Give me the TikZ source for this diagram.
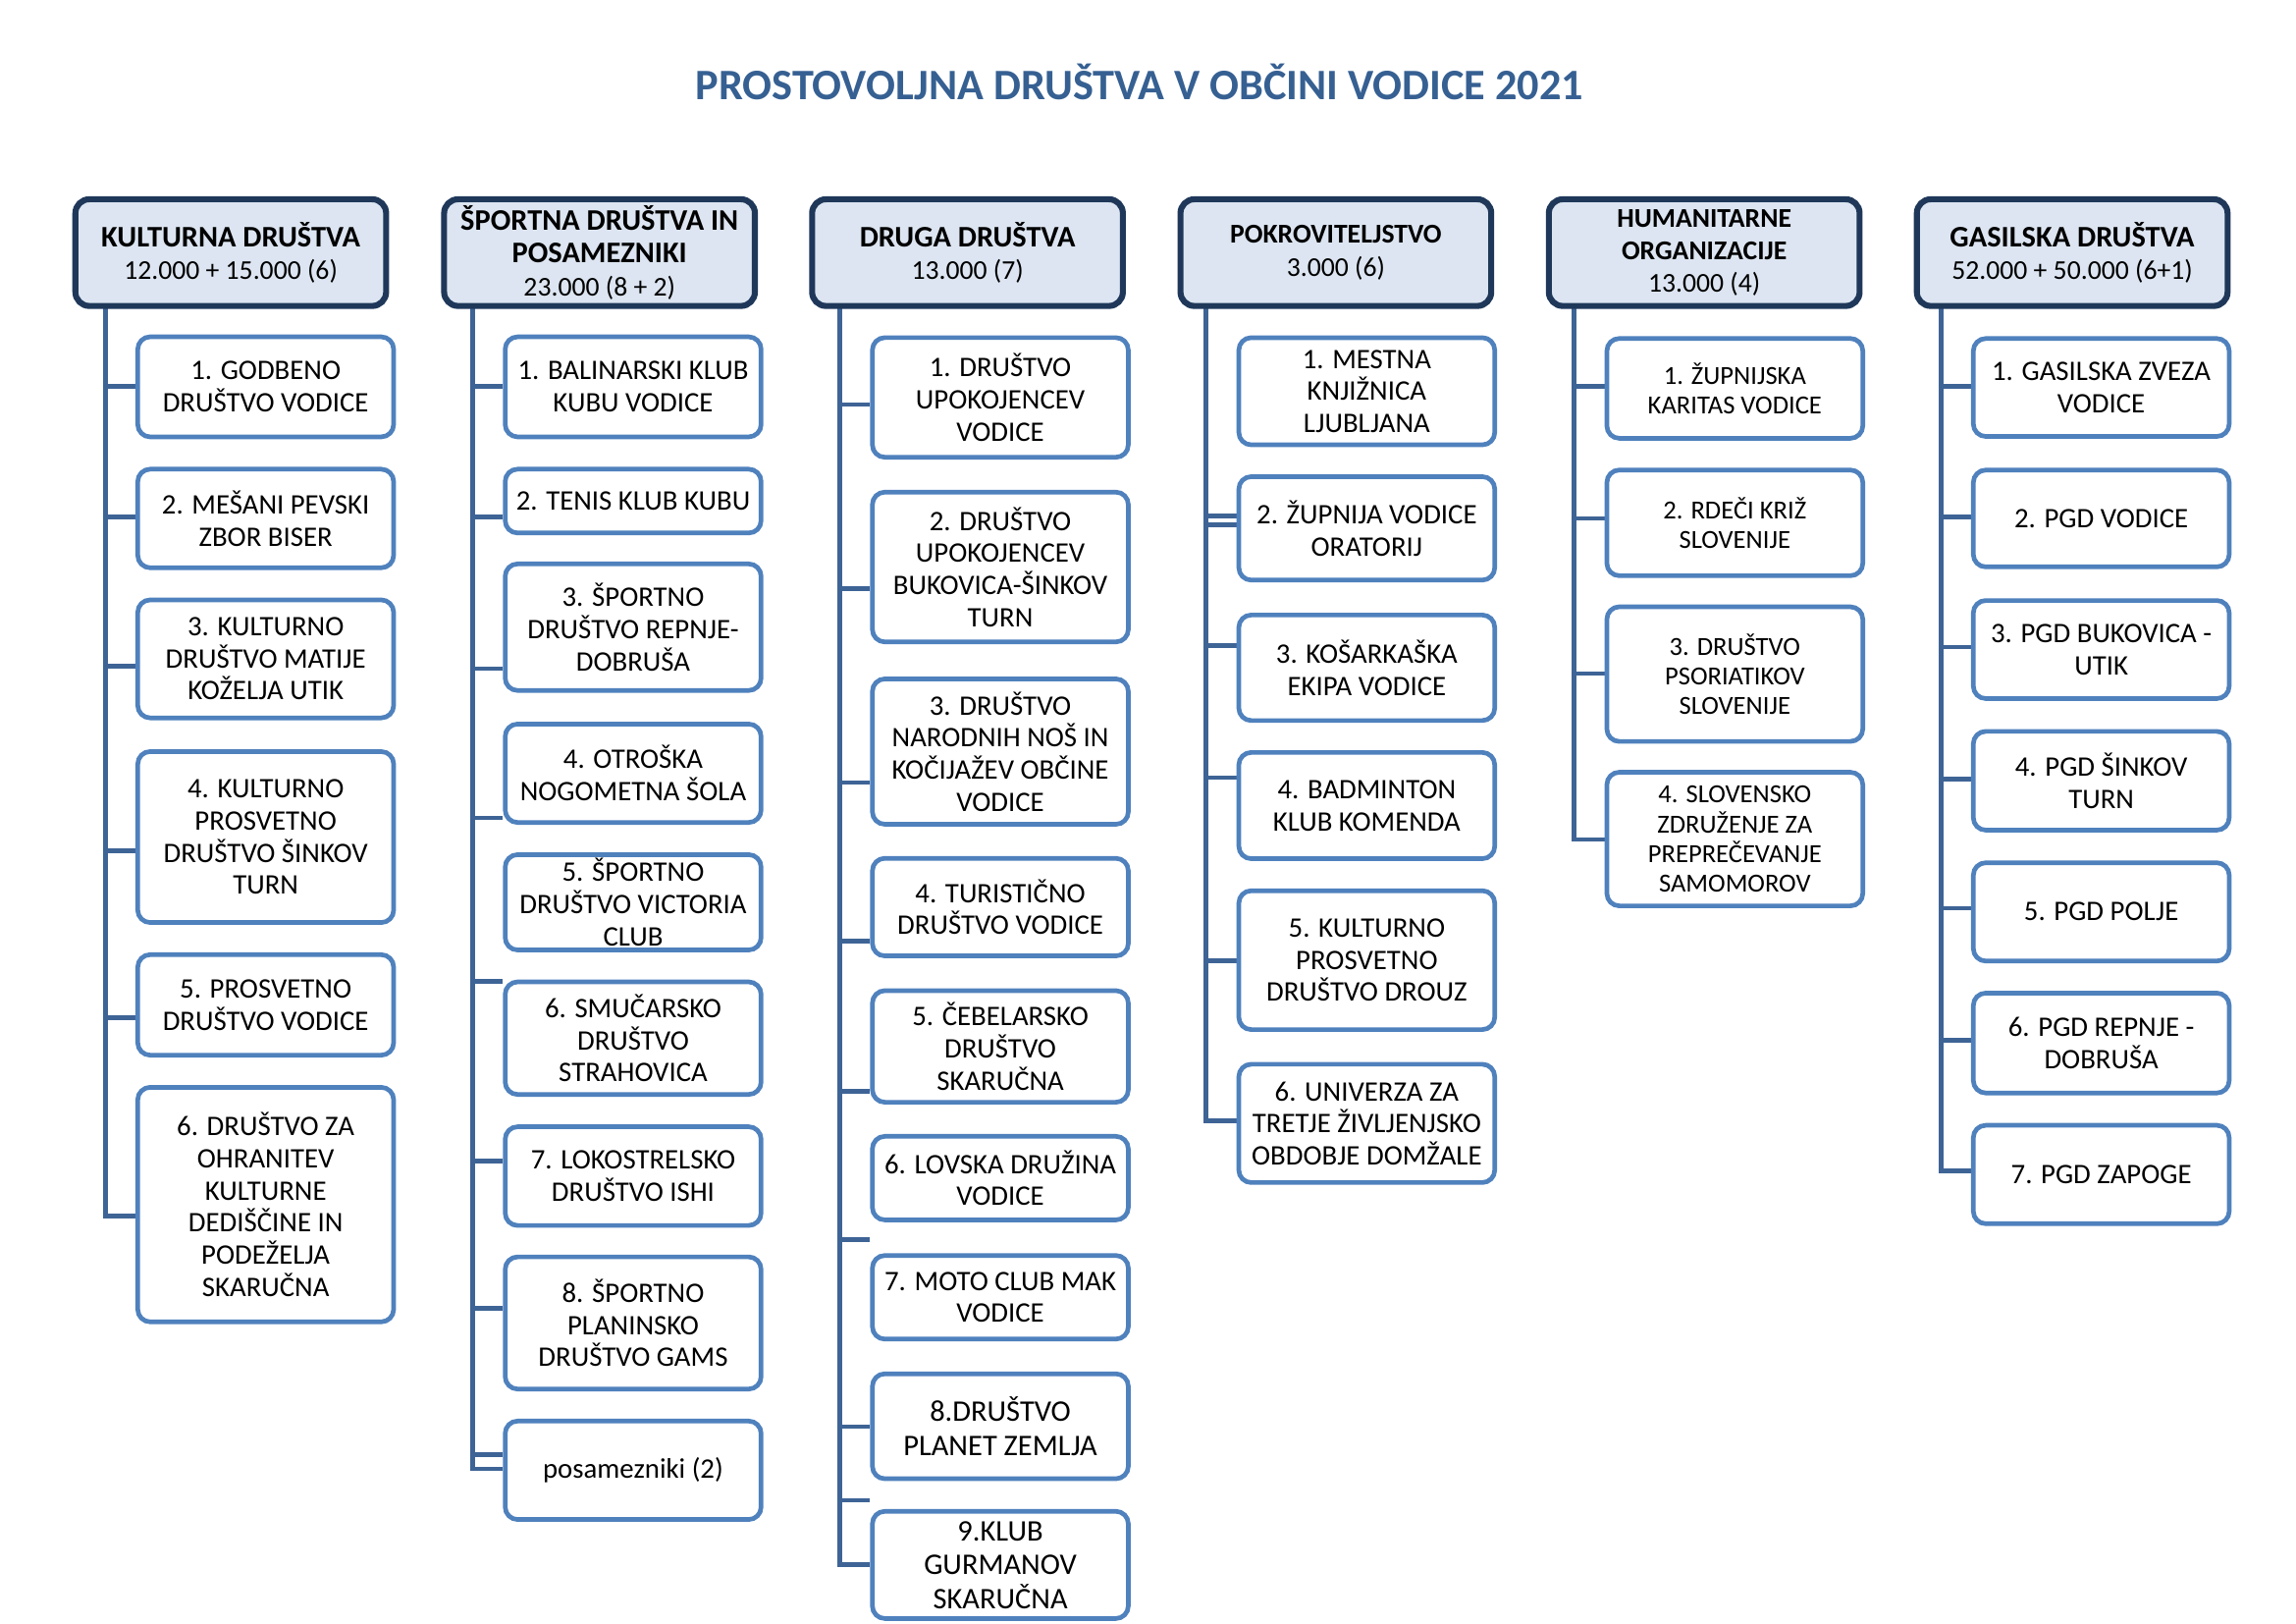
\documentclass[tikz,border=0pt]{standalone}
\usepackage{fontspec}
\setmainfont{Carlito}
\usetikzlibrary{backgrounds}

\definecolor{naslovna}{RGB}{54,96,146}
\definecolor{svetla}{RGB}{220,229,241}
\definecolor{temna}{RGB}{31,56,90}
\definecolor{modra}{RGB}{79,129,189}
\definecolor{deblo}{RGB}{62,100,150}

\newcommand{\ime}[1]{{\fontsize{11}{12.5}\selectfont\bfseries #1}}
\newcommand{\imem}[1]{{\fontsize{10}{12}\selectfont\bfseries #1}}

\tikzset{
  glava/.style={draw=temna, fill=svetla, line width=2.2pt, rounded corners=1.8mm,
    minimum width=40.2mm, minimum height=13.8mm, align=center, inner sep=0pt,
    font=\fontsize{10}{12}\selectfont},
  clan/.style={draw=modra, fill=white, line width=1.7pt, rounded corners=1.6mm,
    minimum width=33.1mm, align=center, inner sep=0pt,
    font=\fontsize{10.4}{11.8}\selectfont},
  vez/.style={draw=deblo, line width=1.7pt},
}

\begin{document}
\begin{tikzpicture}[x=1mm,y=-1mm]
    \useasboundingbox (0,0) rectangle (297,210);
    \node[anchor=base, text=naslovna, font=\fontsize{16}{19}\selectfont\bfseries] (naslov) at (147.4,12.95) {PROSTOVOLJNA DRUŠTVA V OBČINI VODICE 2021};

    % glave stolpcev
    \node[glava] (kul) at (29.85,32.67) {\ime{KULTURNA DRUŠTVA}\\12.000 + 15.000 (6)};
    \node[glava] (spo) at (77.55,32.67) {\ime{ŠPORTNA DRUŠTVA IN}\\\ime{POSAMEZNIKI}\\23.000 (8 + 2)};
    \node[glava] (dru) at (125.15,32.67) {\ime{DRUGA DRUŠTVA}\\13.000 (7)};
    \node[glava] (pok) at (172.80,32.67) {\imem{POKROVITELJSTVO}\\3.000 (6)};
    \node[glava] (hum) at (220.45,32.67) {\imem{HUMANITARNE}\\\imem{ORGANIZACIJE}\\13.000 (4)};
    \node[glava] (gas) at (268.05,32.67) {\ime{GASILSKA DRUŠTVA}\\52.000 + 50.000 (6+1)};

    % kulturna
    \node[clan, minimum height=12.94mm] (kul1) at (34.37,50.03) {1. GODBENO\\DRUŠTVO VODICE};
    \node[clan, minimum height=12.75mm] (kul2) at (34.37,67.05) {2. MEŠANI PEVSKI\\ZBOR BISER};
    \node[clan, minimum height=15.26mm] (kul3) at (34.37,85.21) {3. KULTURNO\\DRUŠTVO MATIJE\\KOŽELJA UTIK};
    \node[clan, minimum height=22.11mm] (kul4) at (34.37,108.25) {4. KULTURNO\\PROSVETNO\\DRUŠTVO ŠINKOV\\TURN};
    \node[clan, minimum height=13.00mm] (kul5) at (34.37,129.96) {5. PROSVETNO\\DRUŠTVO VODICE};
    \node[clan, minimum height=30.33mm] (kul6) at (34.37,155.78) {6. DRUŠTVO ZA\\OHRANITEV\\KULTURNE\\DEDIŠČINE IN\\PODEŽELJA\\SKARUČNA};

    % sportna
    \node[clan, minimum height=12.94mm] (spo1) at (81.90,50.03) {1. BALINARSKI KLUB\\KUBU VODICE};
    \node[clan, minimum height=8.26mm] (spo2) at (81.90,64.80) {2. TENIS KLUB KUBU};
    \node[clan, minimum height=16.37mm] (spo3) at (81.90,81.11) {3. ŠPORTNO\\DRUŠTVO REPNJE-\\DOBRUŠA};
    \node[clan, minimum height=12.73mm] (spo4) at (81.90,100.00) {4. OTROŠKA\\NOGOMETNA ŠOLA};
    \node[clan, minimum height=12.33mm] (spo5) at (81.90,116.69) {5. ŠPORTNO\\DRUŠTVO VICTORIA\\CLUB};
    \node[clan, minimum height=14.56mm] (spo6) at (81.90,134.26) {6. SMUČARSKO\\DRUŠTVO\\STRAHOVICA};
    \node[clan, minimum height=12.77mm] (spo7) at (81.90,152.10) {7. LOKOSTRELSKO\\DRUŠTVO ISHI};
    \node[clan, minimum height=17.09mm] (spo8) at (81.90,171.09) {8. ŠPORTNO\\PLANINSKO\\DRUŠTVO GAMS};
    \node[clan, minimum height=12.73mm] (spo9) at (81.90,190.14) {posamezniki (2)};

    % druga
    \node[clan, minimum height=15.47mm] (dru1) at (129.40,51.40) {1. DRUŠTVO\\UPOKOJENCEV\\VODICE};
    \node[clan, minimum height=19.37mm] (dru2) at (129.40,73.33) {2. DRUŠTVO\\UPOKOJENCEV\\BUKOVICA-ŠINKOV\\TURN};
    \node[clan, minimum height=18.80mm] (dru3) at (129.40,97.20) {3. DRUŠTVO\\NARODNIH NOŠ IN\\KOČIJAŽEV OBČINE\\VODICE};
    \node[clan, minimum height=12.62mm] (dru4) at (129.40,117.31) {4. TURISTIČNO\\DRUŠTVO VODICE};
    \node[clan, minimum height=14.43mm] (dru5) at (129.40,135.33) {5. ČEBELARSKO\\DRUŠTVO\\SKARUČNA};
    \node[clan, minimum height=10.81mm] (dru6) at (129.40,152.36) {6. LOVSKA DRUŽINA\\VODICE};
    \node[clan, minimum height=10.81mm] (dru7) at (129.40,167.77) {7. MOTO CLUB MAK\\VODICE};
    \node[clan, minimum height=13.57mm, font=\fontsize{11}{12.5}\selectfont] (dru8) at (129.40,184.45) {8.DRUŠTVO\\PLANET ZEMLJA};
    \node[clan, minimum height=13.86mm, font=\fontsize{11}{12.5}\selectfont] (dru9) at (129.40,202.38) {9.KLUB\\GURMANOV\\SKARUČNA};

    % pokroviteljstvo
    \node[clan, minimum height=13.86mm] (pok1) at (176.80,50.60) {1. MESTNA\\KNJIŽNICA\\LJUBLJANA};
    \node[clan, minimum height=13.38mm] (pok2) at (176.80,68.33) {2. ŽUPNIJA VODICE\\ORATORIJ};
    \node[clan, minimum height=13.65mm] (pok3) at (176.80,86.36) {3. KOŠARKAŠKA\\EKIPA VODICE};
    \node[clan, minimum height=13.74mm] (pok4) at (176.80,104.18) {4. BADMINTON\\KLUB KOMENDA};
    \node[clan, minimum height=17.96mm] (pok5) at (176.80,124.17) {5. KULTURNO\\PROSVETNO\\DRUŠTVO DROUZ};
    \node[clan, minimum height=15.30mm] (pok6) at (176.80,145.28) {6. UNIVERZA ZA\\TRETJE ŽIVLJENJSKO\\OBDOBJE DOMŽALE};

    % humanitarne
    \node[clan, minimum height=12.91mm, font=\fontsize{9.6}{10.9}\selectfont] (hum1) at (224.41,50.23) {1. ŽUPNIJSKA\\KARITAS VODICE};
    \node[clan, minimum height=13.67mm, font=\fontsize{9.6}{10.9}\selectfont] (hum2) at (224.41,67.62) {2. RDEČI KRIŽ\\SLOVENIJE};
    \node[clan, minimum height=17.41mm, font=\fontsize{9.6}{10.9}\selectfont] (hum3) at (224.41,87.18) {3. DRUŠTVO\\PSORIATIKOV\\SLOVENIJE};
    \node[clan, minimum height=17.28mm, font=\fontsize{9.6}{10.9}\selectfont] (hum4) at (224.41,108.51) {4. SLOVENSKO\\ZDRUŽENJE ZA\\PREPREČEVANJE\\SAMOMOROV};

    % gasilska
    \node[clan, minimum height=12.66mm] (gas1) at (271.81,50.11) {1. GASILSKA ZVEZA\\VODICE};
    \node[clan, minimum height=12.52mm] (gas2) at (271.81,67.05) {2. PGD VODICE};
    \node[clan, minimum height=12.68mm] (gas3) at (271.81,84.00) {3. PGD BUKOVICA -\\UTIK};
    \node[clan, minimum height=12.77mm] (gas4) at (271.81,100.97) {4. PGD ŠINKOV\\TURN};
    \node[clan, minimum height=12.71mm] (gas5) at (271.81,117.93) {5. PGD POLJE};
    \node[clan, minimum height=12.92mm] (gas6) at (271.81,134.89) {6. PGD REPNJE -\\DOBRUŠA};
    \node[clan, minimum height=12.73mm] (gas7) at (271.81,151.89) {7. PGD ZAPOGE};

    % povezave
    \begin{scope}[on background layer]
        \foreach \i/\y in {1/49.95,2/66.86,3/86.17,4/110.06,5/131.63,6/157.27}{
            \coordinate (kul\i-s) at (13.62,\y);
            \draw[vez] (kul\i-s) -- (kul\i-s -| kul\i.west);
        }
        \foreach \i/\y in {1/49.95,2/66.86,3/86.47,4/105.76,5/126.87,6/150.15,7/169.21,8/188.12,9/189.96}{
            \coordinate (spo\i-s) at (61.13,\y);
            \draw[vez] (spo\i-s) -- (spo\i-s -| spo\i.west);
        }
        \foreach \i/\y in {1/52.31,2/76.08,3/101.19,4/121.73,5/141.14,6/160.35,7/184.50,8/194.01,9/202.38}{
            \coordinate (dru\i-s) at (108.61,\y);
            \draw[vez] (dru\i-s) -- (dru\i-s -| dru\i.west);
        }
        \foreach \i/\y in {1/66.76,2/67.90,3/83.50,4/100.55,5/124.21,6/144.94}{
            \coordinate (pok\i-s) at (155.97,\y);
            \draw[vez] (pok\i-s) -- (pok\i-s -| pok\i.west);
        }
        \foreach \i/\y in {1/50.01,2/67.05,3/87.12,4/108.57}{
            \coordinate (hum\i-s) at (203.64,\y);
            \draw[vez] (hum\i-s) -- (hum\i-s -| hum\i.west);
        }
        \foreach \i/\y in {1/50.01,2/66.88,3/83.69,4/100.79,5/117.47,6/134.54,7/151.45}{
            \coordinate (gas\i-s) at (251.08,\y);
            \draw[vez] (gas\i-s) -- (gas\i-s -| gas\i.west);
        }
        \draw[vez, line cap=rect] (kul.south -| kul1-s) -- (kul6-s);
        \draw[vez, line cap=rect] (spo.south -| spo1-s) -- (spo9-s);
        \draw[vez, line cap=rect] (dru.south -| dru1-s) -- (dru9-s);
        \draw[vez, line cap=rect] (pok.south -| pok1-s) -- (pok6-s);
        \draw[vez, line cap=rect] (hum.south -| hum1-s) -- (hum4-s);
        \draw[vez, line cap=rect] (gas.south -| gas1-s) -- (gas7-s);
    \end{scope}
\end{tikzpicture}
\end{document}
